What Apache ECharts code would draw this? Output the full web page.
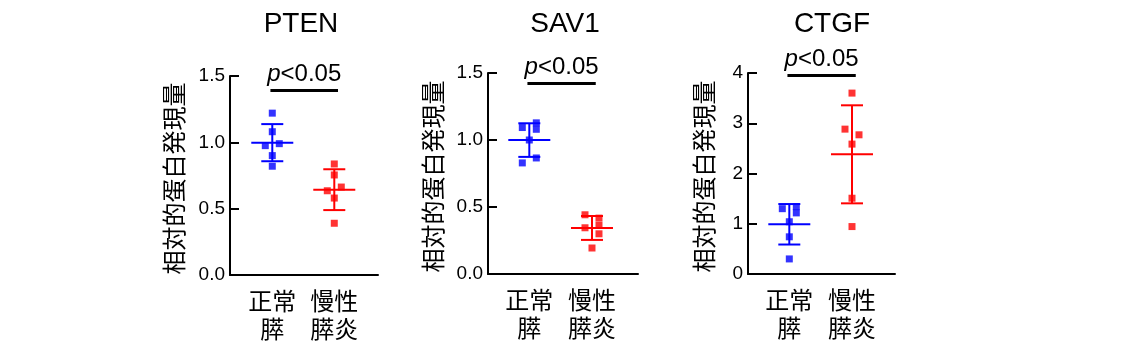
<!DOCTYPE html>
<html>
<head>
<meta charset="utf-8">
<script src="https://cdn.jsdelivr.net/npm/echarts@6/dist/echarts.min.js"></script>
<style>
  html, body { margin: 0; padding: 0; background: #fff; }
  #chart { width: 1124px; height: 362px; }
</style>
</head>
<body>
<div id="chart"></div>
<script>
// ---------------- data ----------------
const categories = ['正常\n膵', '慢性\n膵炎'];
const genes = ['PTEN', 'SAV1', 'CTGF'];
const yAxisName = '相対的蛋白発現量';
const pLabel = 'p<0.05';

const ptenNormal = [1.22, 1.08, 0.975, 0.99, 0.90, 0.82];
const ptenCP     = [0.837, 0.754, 0.635, 0.663, 0.58, 0.39];
const sav1Normal = [1.093, 1.128, 1.08, 1.0, 0.866, 0.829];
const sav1CP     = [0.442, 0.417, 0.345, 0.363, 0.300, 0.194];
const ctgfNormal = [1.30, 1.34, 1.216, 1.04, 0.74, 0.30];
const ctgfCP     = [3.60, 2.883, 2.77, 2.585, 1.508, 0.944];

// horizontal lane of each point (-1 left, 0 centre, 1 right)
const ptenNormalLane = [0, 0, -1, 1, 0, 0];
const ptenCPLane     = [0, 0, -1, 1, 0, 0];
const sav1NormalLane = [-1, 1, 1, 0, 1, -1];
const sav1CPLane     = [-1, 1, -1, 1, 1, 0];
const ctgfNormalLane = [-1, 1, 1, 0, 0, 0];
const ctgfCPLane     = [0, -1, 1, 0, 0, 0];

const yMaxValues = [1.5, 1.5, 4];
const yIntervals = [0.5, 0.5, 1];
const yDecimals  = [1, 1, 0];
const sigLineY   = [1.39, 1.42, 3.95];

// ---------------- layout / style ----------------
const colors = ['#0000ff', '#ff0000'];
const laneWidth = 7;
const latin = '"Liberation Sans", Arial, sans-serif';
const cjk = '"Noto Sans CJK JP", "Noto Sans CJK SC", sans-serif';
const layout = [
  { left: 230, top: 76, width: 148, height: 199, xMin: -0.682, xMax: 1.705, nameGap: 44, titleX: 296 },
  { left: 488, top: 73, width: 150, height: 201, xMin: -0.659, xMax: 1.734, nameGap: 43, titleX: 560 },
  { left: 748, top: 73, width: 147, height: 201, xMin: -0.659, xMax: 1.686, nameGap: 32, titleX: 827 }
];

const panelData = [
  { normal: ptenNormal, cp: ptenCP, nLane: ptenNormalLane, cLane: ptenCPLane },
  { normal: sav1Normal, cp: sav1CP, nLane: sav1NormalLane, cLane: sav1CPLane },
  { normal: ctgfNormal, cp: ctgfCP, nLane: ctgfNormalLane, cLane: ctgfCPLane }
];

function mean(a) { return a.reduce((s, v) => s + v, 0) / a.length; }
function sd(a) {
  const m = mean(a);
  return Math.sqrt(a.reduce((s, v) => s + (v - m) * (v - m), 0) / (a.length - 1));
}

const option = {
  animation: false,
  backgroundColor: '#fff',
  title: [], grid: [], xAxis: [], yAxis: [], series: []
};

genes.forEach((g, i) => {
  const L = layout[i];
  const P = panelData[i];
  option.title.push({
    text: g, left: L.titleX, top: 5, textAlign: 'center',
    textStyle: { fontFamily: latin, fontSize: 28, fontWeight: 'normal', color: '#000' }
  });
  option.grid.push({ left: L.left, top: L.top, width: L.width, height: L.height, containLabel: false });
  option.xAxis.push({
    type: 'value', gridIndex: i, min: L.xMin, max: L.xMax,
    splitLine: { show: false },
    axisLine: { show: true, onZero: false, lineStyle: { color: '#000', width: 2 } },
    axisTick: { show: false },
    axisLabel: {
      show: true, customValues: [0, 1], margin: 12,
      formatter: v => categories[Math.round(v)],
      fontFamily: cjk, fontSize: 24, lineHeight: 28, color: '#000'
    }
  });
  option.yAxis.push({
    type: 'value', gridIndex: i, min: 0, max: yMaxValues[i], interval: yIntervals[i],
    name: yAxisName, nameLocation: 'middle', nameGap: L.nameGap,
    nameTextStyle: { fontFamily: cjk, fontSize: 24, color: '#000', padding: [0, 6, 0, 0] },
    splitLine: { show: false },
    axisLine: { show: true, onZero: false, lineStyle: { color: '#000', width: 2 } },
    axisTick: { show: true, inside: true, length: 9, lineStyle: { color: '#000', width: 2 } },
    axisLabel: {
      margin: 5, fontFamily: latin, fontSize: 19, color: '#000',
      formatter: v => v.toFixed(yDecimals[i])
    }
  });
  // mean ± SD
  option.series.push({
    type: 'custom', xAxisIndex: i, yAxisIndex: i, silent: true, z: 2,
    data: [[0, mean(P.normal), sd(P.normal)], [1, mean(P.cp), sd(P.cp)]],
    renderItem: (params, api) => {
      const gi = api.value(0), m = api.value(1), s = api.value(2);
      const c = api.coord([gi, m]);
      const t = api.coord([gi, m + s]);
      const b = api.coord([gi, m - s]);
      const st = { stroke: colors[gi], lineWidth: 2 };
      return {
        type: 'group',
        children: [
          { type: 'line', shape: { x1: c[0] - 21, y1: c[1], x2: c[0] + 21, y2: c[1] }, style: st },
          { type: 'line', shape: { x1: c[0], y1: t[1], x2: c[0], y2: b[1] }, style: st },
          { type: 'line', shape: { x1: c[0] - 11, y1: t[1], x2: c[0] + 11, y2: t[1] }, style: st },
          { type: 'line', shape: { x1: c[0] - 11, y1: b[1], x2: c[0] + 11, y2: b[1] }, style: st }
        ]
      };
    }
  });
  [[P.normal, P.nLane, 0], [P.cp, P.cLane, 1]].forEach(([vals, lanes, gi]) => {
    const s = {
      type: 'scatter', xAxisIndex: i, yAxisIndex: i, z: 3,
      symbol: 'rect', symbolSize: 7, silent: true,
      itemStyle: { color: colors[gi] },
      data: vals.map((v, k) => ({ value: [gi, v], symbolOffset: [lanes[k] * laneWidth, 0] }))
    };
    if (gi === 1) {
      s.markLine = {
        silent: true, symbol: ['none', 'none'], animation: false,
        lineStyle: { color: '#000', width: 3, type: 'solid' },
        label: {
          show: true, position: 'insideMiddleTop', distance: 4,
          formatter: '{i|p}{n|<0.05}',
          rich: {
            i: { fontFamily: latin, fontSize: 24, fontStyle: 'italic', color: '#000' },
            n: { fontFamily: latin, fontSize: 24, color: '#000' }
          }
        },
        emphasis: { disabled: true },
        data: [[{ coord: [-0.03, sigLineY[i]] }, { coord: [1.06, sigLineY[i]] }]]
      };
    }
    option.series.push(s);
  });
});

const chart = echarts.init(document.getElementById('chart'), null, { renderer: 'canvas' });
chart.setOption(option);
</script>
</body>
</html>
